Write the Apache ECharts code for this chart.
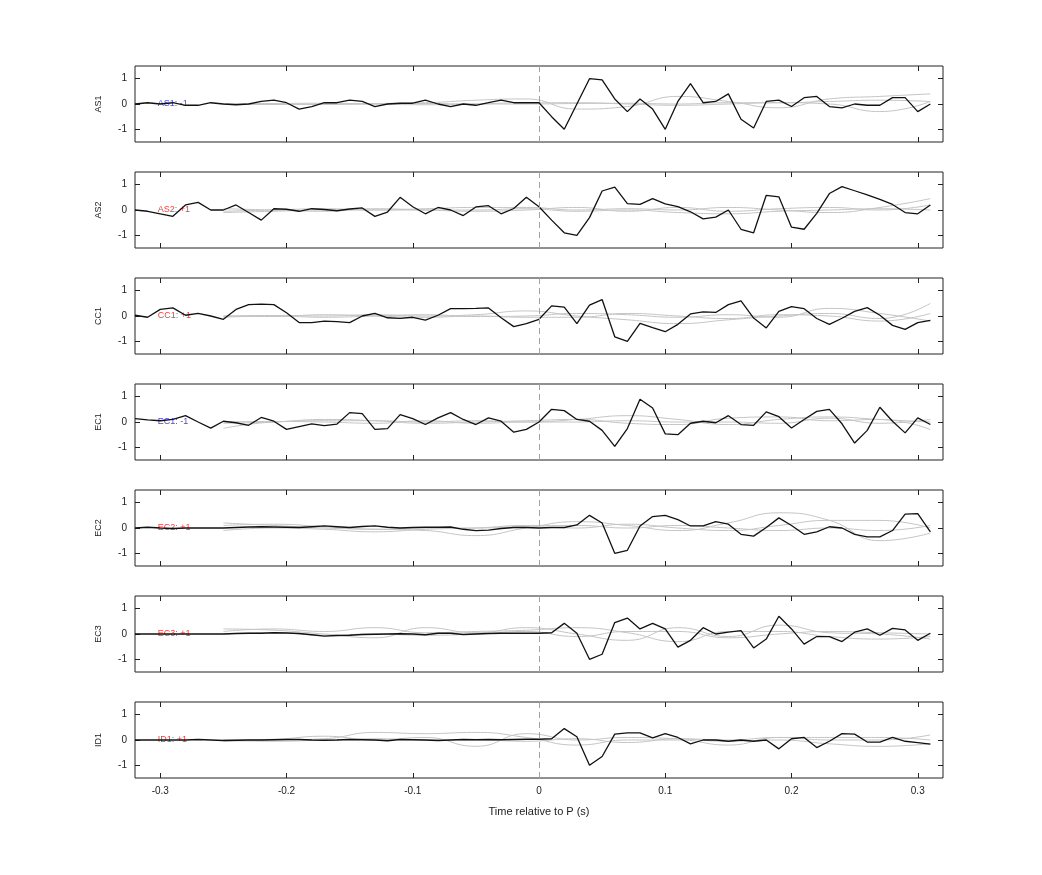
<!DOCTYPE html>
<html>
<head>
<meta charset="utf-8">
<script src="https://cdn.jsdelivr.net/npm/echarts@6/dist/echarts.min.js"></script>
<style>html,body{margin:0;padding:0;background:#fff}#c{width:1042px;height:875px}</style>
</head>
<body>
<div id="c"></div>
<script>
var times = [-0.32,-0.31,-0.30,-0.29,-0.28,-0.27,-0.26,-0.25,-0.24,-0.23,-0.22,-0.21,-0.20,-0.19,-0.18,-0.17,-0.16,-0.15,-0.14,-0.13,-0.12,-0.11,-0.10,-0.09,-0.08,-0.07,-0.06,-0.05,-0.04,-0.03,-0.02,-0.01,0,
  0.01,0.02,0.03,0.04,0.05,0.06,0.07,0.08,0.09,0.10,0.11,0.12,0.13,0.14,0.15,0.16,0.17,0.18,0.19,0.20,0.21,0.22,0.23,0.24,0.25,0.26,0.27,0.28,0.29,0.30,0.31];
var grayTimes = [-0.25,-0.21,-0.17,-0.13,-0.09,-0.05,-0.01,0.03,0.07,0.11,0.15,0.19,0.23,0.27,0.31];

var stations = ['AS1','AS2','CC1','EC1','EC2','EC3','ID1'];
var polarity = ['-1','+1','+1','-1','+1','+1','+1'];

var AS1 = [0,0.05,0,0.05,-0.05,-0.05,0.05,0,-0.03,0,0.1,0.15,0.05,-0.2,-0.1,0.05,0.05,0.15,0.1,-0.1,0,0.03,0.03,0.15,0,-0.1,0,-0.05,0.05,0.15,0.05,0.05,0.05,
  -0.5,-1.0,0,1.0,0.95,0.2,-0.3,0.2,-0.2,-1.0,0.1,0.8,0.05,0.1,0.4,-0.6,-0.95,0.1,0.15,-0.1,0.25,0.3,-0.1,-0.15,0,-0.05,-0.05,0.25,0.25,-0.3,0];
var AS2 = [0,-0.05,-0.15,-0.25,0.2,0.3,0,0,0.2,-0.1,-0.4,0.05,0.03,-0.05,0.05,0.02,-0.03,0.04,0.08,-0.25,-0.08,0.5,0.13,-0.15,0.1,0,-0.22,0.12,0.17,-0.15,0.06,0.5,0.13,
  -0.4,-0.9,-1.0,-0.3,0.75,0.9,0.25,0.22,0.45,0.24,0.13,-0.07,-0.35,-0.28,0,-0.76,-0.9,0.58,0.52,-0.68,-0.76,-0.13,0.65,0.92,0.76,0.6,0.42,0.22,-0.1,-0.15,0.2];
var CC1 = [0.03,-0.05,0.26,0.32,0.03,0.1,0,-0.13,0.26,0.45,0.47,0.45,0.13,-0.26,-0.26,-0.2,-0.22,-0.26,0,0.1,-0.07,-0.09,-0.05,-0.16,0.03,0.29,0.29,0.3,0.32,-0.07,-0.42,-0.3,-0.13,
  0.4,0.35,-0.3,0.43,0.65,-0.82,-1.0,-0.29,-0.46,-0.62,-0.33,0.08,0.16,0.14,0.45,0.6,-0.08,-0.47,0.18,0.37,0.29,-0.1,-0.33,-0.09,0.18,0.33,0.03,-0.37,-0.53,-0.26,-0.17];
var EC1 = [0.13,0.08,0.05,0.1,0.25,0,-0.24,0.03,-0.03,-0.13,0.18,0.03,-0.29,-0.18,-0.07,-0.14,-0.08,0.37,0.33,-0.29,-0.26,0.29,0.13,-0.1,0.16,0.37,0.1,-0.1,0.16,0.03,-0.4,-0.29,0,
  0.5,0.45,0.1,0.03,-0.33,-0.96,-0.26,0.9,0.55,-0.47,-0.5,-0.05,0.03,-0.03,0.25,-0.1,-0.13,0.4,0.21,-0.24,0.1,0.42,0.5,-0.07,-0.83,-0.33,0.58,0.03,-0.43,0.16,-0.1];
var EC2 = [0,0.03,0,-0.02,0,0,0,0,0.02,0.04,0.05,0.04,0.03,0.02,0.05,0.08,0.05,0.02,0.06,0.08,0.03,0,0.02,0.03,0.03,0.04,-0.05,-0.1,-0.08,-0.02,0.02,0.02,0,
  0.02,0.02,0.12,0.5,0.2,-1.0,-0.88,0.08,0.45,0.5,0.33,0.08,0.08,0.25,0.15,-0.25,-0.32,0.02,0.4,0.1,-0.25,-0.15,0.05,0,-0.25,-0.35,-0.35,-0.1,0.55,0.57,-0.15];
var EC3 = [0,0,0,0,0,0,0,0,0.02,0.03,0.03,0.05,0.04,0.02,-0.03,-0.08,-0.06,-0.05,-0.02,-0.01,0,0.01,0,-0.03,0.03,0.03,-0.02,0,0.02,0.03,0.03,0.03,0.03,
  0.05,0.42,0.03,-1.0,-0.8,0.45,0.63,0.2,0.42,0.2,-0.52,-0.25,0.25,0,0.07,0.13,-0.55,-0.2,0.7,0.2,-0.4,-0.1,-0.1,-0.3,0.07,0.2,-0.05,0.22,0.16,-0.25,0.03];
var ID1 = [0,0,0,0,0,0.02,0,-0.02,-0.01,0,0,0.01,0.02,0.02,0,-0.01,0,0.02,0.01,0,-0.03,0.02,0.01,0,-0.02,0,0.02,0.01,0.02,0.01,0.02,0.03,0.03,
  0.05,0.45,0.13,-1.0,-0.65,0.23,0.28,0.28,0.08,0.25,0.1,-0.15,0,0,-0.05,0,-0.05,0,-0.35,0.05,0.1,-0.3,-0.05,0.25,0.23,-0.08,-0.08,0.1,-0.05,-0.1,-0.16];
var traces = [AS1, AS2, CC1, EC1, EC2, EC3, ID1];

// gray reference traces, sampled at grayTimes
var grayAS1 = [[0,-0.02,0,0.02,0.05,0.15,0.2,-0.2,-0.1,0.3,0.1,-0.15,0.2,0.3,0.4],
  [0,0.02,0.03,0,-0.03,0,0.05,0.05,0,-0.05,0,0.05,0,-0.3,0.1],
  [0,0,-0.02,0,0.02,0,0,0.02,0.03,0,0.05,0.05,0.1,0.15,0.1]];
var grayAS2 = [[-0.05,0,0.05,0,0.05,0.1,0.1,0,0.05,0,0.1,0,-0.1,0.1,0.45],
  [0.05,0,-0.05,0.05,0,-0.05,0,0.1,-0.05,0.1,-0.05,0.05,0.1,0,0.2],
  [-0.1,-0.05,0,0,0,0,0.05,-0.05,0,-0.1,-0.15,-0.05,0,0.05,0]];
var grayCC1 = [[0,0.02,0,0.05,0,0.05,0.2,0,-0.15,-0.3,-0.15,0,0.1,-0.1,0.5],
  [-0.05,0,-0.05,0,0.05,-0.02,0,0.1,0.05,-0.05,0.05,-0.05,0.3,0.1,-0.2],
  [0,-0.02,0.05,0,-0.05,0,-0.05,-0.05,0.1,0,-0.1,0.05,0,-0.2,0.1]];
var grayEC1 = [[-0.25,0,0.05,0.05,0,0.05,0,0.1,0.25,0.1,-0.1,0.1,0.2,0.1,0],
  [-0.05,0,0.1,0.05,-0.05,0,0.05,0.1,-0.05,-0.1,0.15,0.2,0.05,0.1,-0.3],
  [0,0.02,0,-0.05,0.05,-0.05,0,0,0.05,0,0,-0.05,0.15,-0.05,0.1]];
var grayEC2 = [[0.2,0.1,0,-0.05,-0.1,-0.3,0,0.25,0.1,-0.1,0.2,0.6,0.3,-0.5,-0.2],
  [0.1,0.15,0.05,-0.05,0,0,0.05,0,0.15,0,-0.1,0.1,0.3,0.3,0],
  [-0.1,0,-0.05,-0.15,-0.05,0,0.1,0.1,0,0.1,0,-0.1,0,-0.1,0.1]];
var grayEC3 = [[0.2,0.15,0,-0.15,0.25,0.05,0.25,0,-0.25,0.25,-0.1,0.35,0.05,0,-0.2],
  [0.1,0.2,0.1,0.25,0.05,0.1,0.15,0.25,0.05,-0.3,0.1,0.1,-0.1,-0.2,-0.1],
  [0,0.05,-0.05,0,-0.05,0,0.1,-0.1,0.1,0.1,-0.15,0,0.1,0.05,0]];
var grayID1 = [[-0.05,0,0.05,0.3,0.25,0.3,0.1,-0.2,0,0,-0.2,0.1,0,0,0.2],
  [0,0.03,0.15,0,0.1,-0.25,0.25,0,0.1,0.05,-0.05,0,-0.15,-0.25,-0.15],
  [0,-0.05,0,0.05,0,0,-0.05,0.05,-0.1,0.05,0,0.1,0.1,0.1,0]];
var grays = [grayAS1, grayAS2, grayCC1, grayEC1, grayEC2, grayEC3, grayID1];

var xTicks = [-0.3,-0.2,-0.1,0,0.1,0.2,0.3];
var yTicks = [-1, 0, 1];

var chart = echarts.init(document.getElementById('c'));
var grid = [], xAxis = [], yAxis = [], series = [];
var tops = [66,172,278,384,490,596,702];
var tick = {inside: true, length: 5, lineStyle: {color: '#222'}};

stations.forEach(function (name, i) {
  grid.push({left: 135, right: 99, top: tops[i], height: 76, show: true, borderColor: '#222', borderWidth: 1});
  var last = i === stations.length - 1;
  ['bottom', 'top'].forEach(function (pos) {
    xAxis.push({
      gridIndex: i, type: 'value', position: pos, min: -0.32, max: 0.32,
      axisLine: {show: false, onZero: false}, splitLine: {show: false},
      axisTick: Object.assign({customValues: xTicks}, tick),
      axisLabel: {show: last && pos === 'bottom', color: '#222', fontSize: 10, customValues: xTicks,
        formatter: function (v) { return Math.round(v * 10) / 10 + ''; }},
      name: last && pos === 'bottom' ? 'Time relative to P (s)' : '', nameLocation: 'middle', nameGap: 28,
      nameTextStyle: {color: '#222', fontSize: 11}
    });
  });
  ['left', 'right'].forEach(function (pos) {
    yAxis.push({
      gridIndex: i, type: 'value', position: pos, min: -1.5, max: 1.5,
      axisLine: {show: false, onZero: false}, splitLine: {show: false},
      axisTick: Object.assign({customValues: yTicks}, tick),
      axisLabel: {show: pos === 'left', color: '#222', fontSize: 10, customValues: yTicks},
      name: pos === 'left' ? name : '', nameLocation: 'middle', nameGap: 32, nameRotate: 90,
      nameTextStyle: {color: '#222', fontSize: 9}
    });
  });
  var xi = 2 * i, yi = 2 * i;
  grays[i].forEach(function (g) {
    series.push({
      type: 'line', xAxisIndex: xi, yAxisIndex: yi, smooth: 0.5, symbol: 'none', silent: true,
      lineStyle: {color: '#c4c4c4', width: 1},
      data: grayTimes.map(function (t, k) { return [t, g[k]]; })
    });
  });
  series.push({
    type: 'line', xAxisIndex: xi, yAxisIndex: yi, symbol: 'none',
    lineStyle: {color: '#111', width: 1.3},
    data: times.map(function (t, k) { return [t, traces[i][k]]; }),
    markLine: {
      silent: true, symbol: 'none', label: {show: false},
      lineStyle: {color: '#d09090', type: [6, 4], width: 1},
      data: [{xAxis: 0}]
    }
  });
  series.push({
    type: 'scatter', xAxisIndex: xi, yAxisIndex: yi, symbolSize: 0, silent: true,
    label: {show: true, position: 'right', distance: 0, fontSize: 9,
      color: polarity[i] === '-1' ? '#1010e0' : '#e01010',
      formatter: name + ': ' + polarity[i]},
    data: [[-0.302, 0]]
  });
});

chart.setOption({
  animation: false,
  grid: grid, xAxis: xAxis, yAxis: yAxis, series: series
});
</script>
</body>
</html>
